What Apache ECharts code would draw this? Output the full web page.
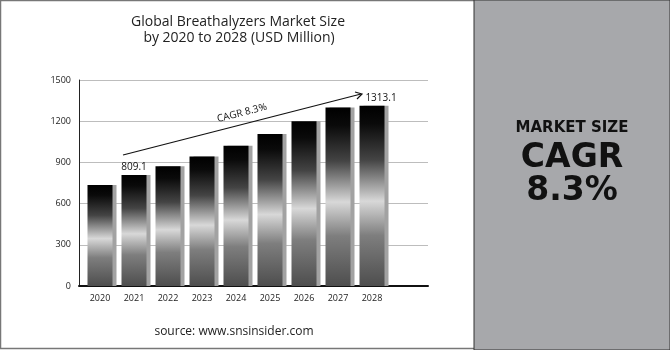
<!DOCTYPE html>
<html><head><meta charset="utf-8">
<script src="https://cdn.jsdelivr.net/npm/echarts@6/dist/echarts.min.js"></script>
<style>html,body{margin:0;padding:0;background:#fff}#c{width:670px;height:350px}</style>
</head><body><div id="c"></div>
<script>
const years = ['2020','2021','2022','2023','2024','2025','2026','2027','2028'];
const marketSize = [735, 809.1, 872, 943, 1022, 1107, 1200, 1300, 1313.1];
const labelled = ['2021','2028'];
const yTicks = {min: 0, max: 1500, interval: 300};
const titleLines = ['Global Breathalyzers Market Size', 'by 2020 to 2028 (USD Million)'];
const cagrText = 'CAGR 8.3%';

const chart = echarts.init(document.getElementById('c'), null, {renderer: 'canvas'});
const FONT = '"Open Sans", "Noto Sans", sans-serif';
const barGrad = new echarts.graphic.LinearGradient(0,0,0,1,[
  {offset:0, color:'#000'},
  {offset:0.1, color:'#0a0a0a'},
  {offset:0.3, color:'#444'},
  {offset:0.53, color:'#d8d8d8'},
  {offset:0.72, color:'#7e7e7e'},
  {offset:1, color:'#4e4e4e'}
]);
chart.setOption({
  animation:false,
  backgroundColor:'#fff',
  grid:[
    {left:79, top:80, width:349, height:206},
    {left:83, top:80, width:306, height:206}
  ],
  xAxis:[
    {gridIndex:0, type:'value', min:0, max:1, axisLine:{show:true, lineStyle:{color:'#111', width:2}},
     axisTick:{show:false}, axisLabel:{show:false}, splitLine:{show:false}},
    {gridIndex:1, type:'category', data:years, axisLine:{show:false}, axisTick:{show:false},
     axisLabel:{fontSize:9, color:'#222', margin:8, fontFamily:FONT}}
  ],
  yAxis:[
    {gridIndex:0, type:'value', min:yTicks.min, max:yTicks.max, interval:yTicks.interval,
     axisLine:{show:true, lineStyle:{color:'#222', width:1}}, axisTick:{show:false},
     axisLabel:{fontSize:9, color:'#222', margin:8, fontFamily:FONT, formatter:v=>String(v)},
     splitLine:{lineStyle:{color:'#bdbdbd', width:1}}},
    {gridIndex:1, type:'value', min:yTicks.min, max:yTicks.max, show:false, splitLine:{show:false}}
  ],
  series:[{
    type:'bar', xAxisIndex:1, yAxisIndex:1, barWidth:25,
    data: marketSize.map((v,i)=>({value:v, label:{show: labelled.includes(years[i]), offset: i===years.length-1?[9,0]:[0,0]}})),
    itemStyle:{color:barGrad, shadowColor:'#a2a2a2', shadowOffsetX:4, shadowOffsetY:0, shadowBlur:0},
    label:{position:'top', distance:3, fontSize:10, color:'#111', fontFamily:FONT}
  }],
  graphic:[
    {type:'rect', shape:{x:0.5,y:0.5,width:669,height:348}, style:{fill:'none', stroke:'#777', lineWidth:1.5}, z:-1},
    {type:'rect', shape:{x:474,y:0,width:196,height:350}, style:{fill:'#a7a8ab', stroke:'#333', lineWidth:1}, z:1},
    {type:'text', x:238, y:22, style:{text:titleLines[0], font:'14px '+FONT, fill:'#222', textAlign:'center', textVerticalAlign:'middle'}},
    {type:'text', x:239, y:38, style:{text:titleLines[1], font:'14px '+FONT, fill:'#222', textAlign:'center', textVerticalAlign:'middle'}},
    {type:'text', x:234, y:332, style:{text:'source: www.snsinsider.com', font:'12px '+FONT, fill:'#222', textAlign:'center', textVerticalAlign:'middle'}},
    {type:'line', shape:{x1:123,y1:155,x2:361,y2:94}, style:{stroke:'#111', lineWidth:1.2}, z:10},
    {type:'polyline', shape:{points:[[355,92],[362,94],[357,99]]}, style:{stroke:'#111', lineWidth:1.2, fill:'none'}, z:10},
    {type:'text', x:242, y:113, rotation:0.25, style:{text:cagrText, font:'10px '+FONT, fill:'#111', textAlign:'center', textVerticalAlign:'middle'}, z:10},
    {type:'text', x:572, y:128, style:{text:'MARKET SIZE', font:'bold 15px "DejaVu Sans", sans-serif', fill:'#111', textAlign:'center', textVerticalAlign:'middle'}, z:5},
    {type:'text', x:572, y:158, style:{text:'CAGR', font:'bold 33px "DejaVu Sans", sans-serif', fill:'#111', textAlign:'center', textVerticalAlign:'middle'}, z:5},
    {type:'text', x:572, y:191, style:{text:'8.3%', font:'bold 33px "DejaVu Sans", sans-serif', fill:'#111', textAlign:'center', textVerticalAlign:'middle'}, z:5},
    {type:'group', z:5, children:[
      {type:'circle', shape:{cx:535, cy:303, r:1.6}, style:{fill:'#111'}},
      {type:'polygon', shape:{points:[[529,306],[531,305],[533,307],[535,305],[537,307],[539,305],[541,306],[540,311],[530,311]]}, style:{fill:'#111'}},
      {type:'rect', shape:{x:531,y:312,width:8,height:2}, style:{fill:'#111'}},
      {type:'rect', shape:{x:532,y:315,width:3,height:14}, style:{fill:'#111'}},
      {type:'rect', shape:{x:536,y:315,width:2,height:14}, style:{fill:'#555'}},
      {type:'rect', shape:{x:539,y:318,width:2,height:11}, style:{fill:'#555'}},
      {type:'rect', shape:{x:528,y:329,width:15,height:2}, style:{fill:'#111'}},
      {type:'text', x:546, y:322, style:{text:'SNS INSIDER', font:'11px '+FONT, fill:'#444', textAlign:'left', textVerticalAlign:'middle'}},
      {type:'text', x:547, y:331, style:{text:'S t r a t e g y  &  S t a t s', font:'bold 5px "DejaVu Sans Mono", monospace', fill:'#222', textAlign:'left', textVerticalAlign:'middle'}}
    ]}
  ]
});
</script></body></html>
